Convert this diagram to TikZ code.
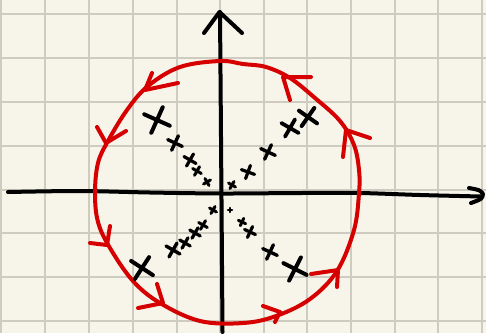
\documentclass[tikz,border=0pt]{standalone}
\usetikzlibrary{calc}
\definecolor{paper}{RGB}{247,245,234}
\definecolor{gridline}{RGB}{206,204,192}
\definecolor{pen}{RGB}{214,0,0}
\tikzset{
  gridrule/.style={gridline,line width=1.3pt},
  axis/.style={black,line width=4pt,line cap=round,line join=round},
  contour/.style={pen,line width=4pt,line cap=round,line join=round},
  cross/.style={black,line width=#1,line cap=round},
  cross/.default=3pt,
}
\begin{document}
\begin{tikzpicture}[x=1pt,y=-1pt]
  \useasboundingbox (0,0) rectangle (486,333);
  \fill[paper] (0,0) rectangle (486,333);

  % squared paper
  \foreach \gx in {1,45,89,133,177,220,264,307,351,395,438,482}
    \draw[gridrule] (\gx,0) -- (\gx,333);
  \foreach \gy in {14,58,102,146,190,233,277,321}
    \draw[gridrule] (0,\gy) -- (486,\gy);

  % axes
  \draw[axis] plot[smooth] coordinates {(8,192) (80,191) (150,192.5) (222,193.5)
      (300,193) (360,193) (420,195) (481,196.5)};
  \draw[axis] (469,188) .. controls (480,190) .. (483,194)
      .. controls (482,199) .. (471,203);
  \draw[axis] (222.5,332) -- (221.5,200) -- (220,12);
  \draw[axis] (204,33) -- (219.5,12) -- (242,33);

  % contour
  \draw[contour] plot[smooth cycle,tension=0.6] coordinates {(220,61) (243,64)
      (266,67) (290,78) (315,98) (340,121) (354,145) (359,170) (359,193)
      (354,230) (337,271) (310,299) (276,316) (243,323) (200,321) (160,303)
      (133,281) (110,248) (98,222) (95,193) (98,163) (108,141) (127,110)
      (148,86) (180,67)};
  \foreach \ax/\ay/\tx/\ty/\bx/\by in {152/73/145/90/178/83,
      97/127/106/143/126/131, 90/243/107/245/110/226,
      157/284/163/303/138/308, 263/306/280/312/275/322,
      311/274/338/270/337/287, 343/157/346/130/370/138,
      290/100/283/77/311/77}
    \draw[contour] (\ax,\ay) -- (\tx,\ty) -- (\bx,\by);

  % poles
  \foreach \px/\py/\s/\r/\w in {157/120/14/-24/4pt, 175/143/8/-25/3.4pt,
      190/160/7/-30/3.2pt, 197/171/5/-30/3pt, 207/182/4/-60/3pt,
      308/117/11/-35/4pt, 290/128/10/-30/3.8pt, 268/152/8/-25/3.4pt,
      248/172/7/-20/3.2pt, 232/185/4/-30/3pt,
      142/268/13/-33/4pt, 173/250/8/-30/3.4pt, 185/243/6/-30/3.2pt,
      195/233/6/-30/3.2pt, 203/225/5/-30/3pt, 213/210/4/-30/3pt,
      295/269/13/-27/4pt, 270/252/8/-25/3.4pt, 250/232/6/-25/3.2pt,
      242/222/4/-25/3pt, 230/210/2/0/2.6pt}
    \draw[cross=\w,shift={(\px,\py)},rotate=\r] (-\s,0) -- (\s,0) (0,-\s) -- (0,\s);
\end{tikzpicture}
\end{document}
